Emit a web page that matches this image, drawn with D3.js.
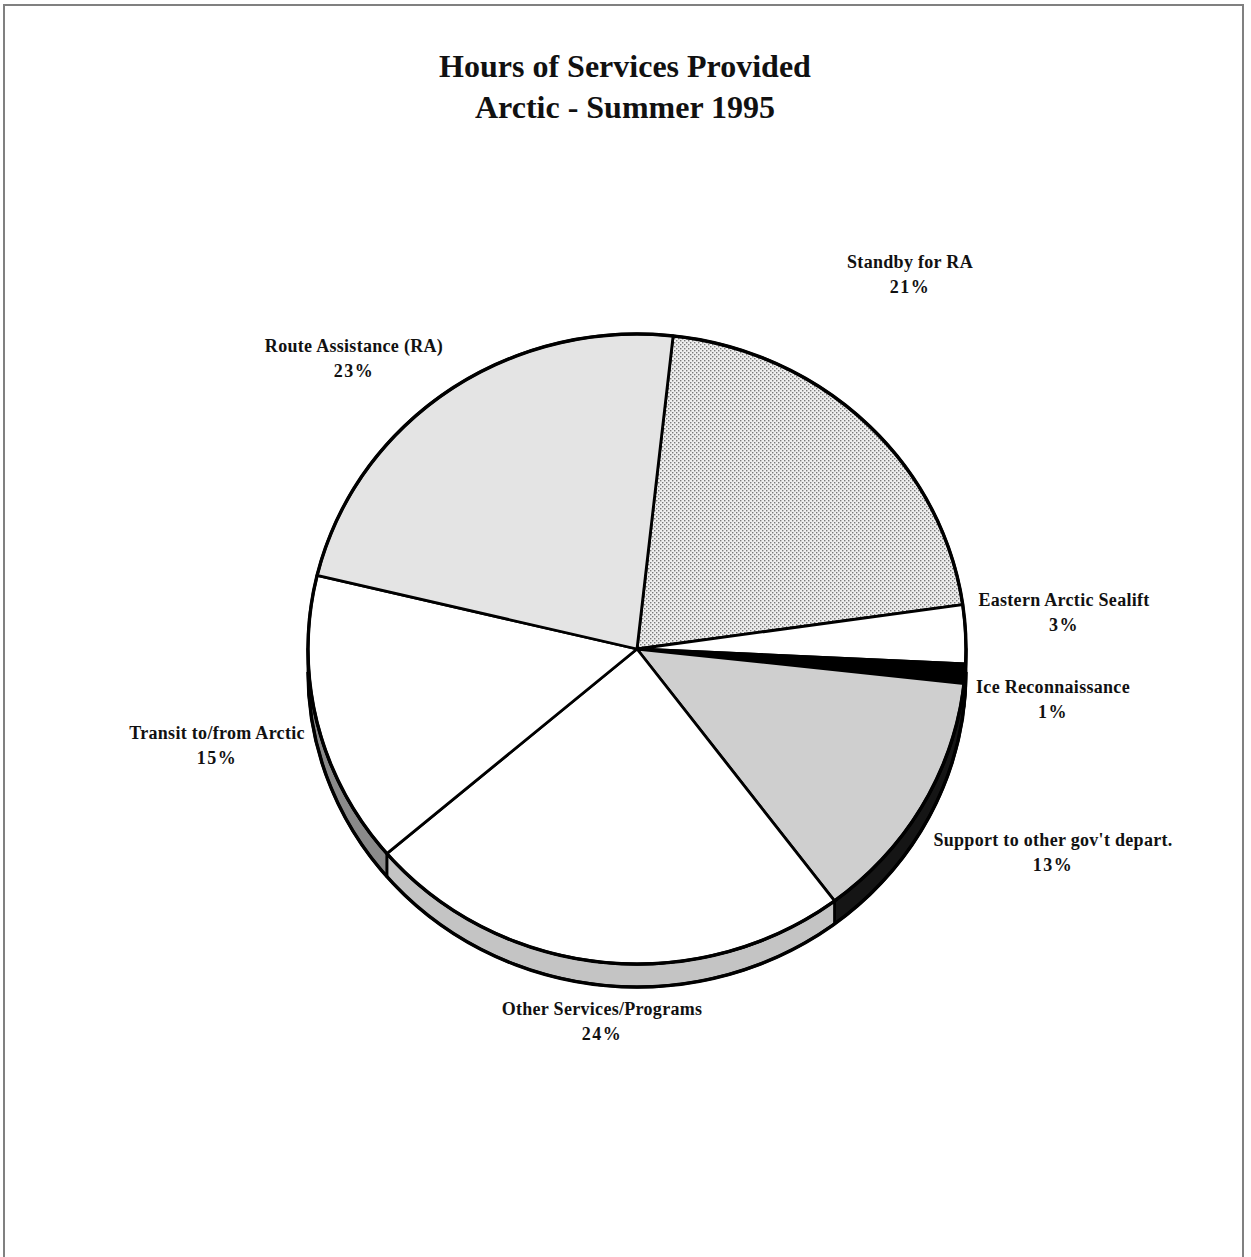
<!DOCTYPE html>
<html>
<head>
<meta charset="utf-8">
<script src="https://cdn.jsdelivr.net/npm/d3@7/dist/d3.min.js"></script>
<style>
  html, body { margin: 0; padding: 0; background: #fff; }
  svg { display: block; }
  text { font-family: "Liberation Serif", "Times New Roman", serif; font-weight: bold; fill: #111; }
</style>
</head>
<body>
<svg id="chart" width="1251" height="1257"></svg>
<script>
// Service categories, clockwise from the top of the pie
const categories = [
  "Standby for RA",
  "Eastern Arctic Sealift",
  "Ice Reconnaissance",
  "Support to other gov't depart.",
  "Other Services/Programs",
  "Transit to/from Arctic",
  "Route Assistance (RA)"
];
// Share of hours (%)
const shares = [21, 3, 1, 13, 24, 15, 23];

const titleLines = ["Hours of Services Provided", "Arctic - Summer 1995"];

// Appearance of each slice: top face and visible rim
const topFills  = ["url(#dots)", "#ffffff", "#000000", "#cfcfcf", "#ffffff", "#ffffff", "#e4e4e4"];
const sideFills = ["#ffffff", "#ffffff", "#000000", "#151515", "#c4c4c4", "#8a8a8a", "#e4e4e4"];

// Label anchor points (centre of the name line, baseline)
const labelAnchors = [[910, 268], [1064, 606], [1053, 693], [1053, 846], [602, 1015], [217, 739], [354, 352]];

const W = 1251, H = 1257;
const cx = 637, cy = 649, rx = 329, ry = 315, depth = 23;
const startDeg = 6.3;

const svg = d3.select("#chart");

// Page frame
svg.append("rect")
  .attr("x", 4).attr("y", 5).attr("width", 1239).attr("height", 1260)
  .attr("fill", "none").attr("stroke", "#808080").attr("stroke-width", 2);

// Fine dot screen used by the "Standby" slice
const defs = svg.append("defs");
const pat = defs.append("pattern").attr("id", "dots")
  .attr("width", 4).attr("height", 4).attr("patternUnits", "userSpaceOnUse");
pat.append("rect").attr("width", 4).attr("height", 4).attr("fill", "#efefef");
pat.append("rect").attr("x", 0).attr("y", 0).attr("width", 1.4).attr("height", 1.4).attr("fill", "#7a7a7a");
pat.append("rect").attr("x", 2).attr("y", 2).attr("width", 1.4).attr("height", 1.4).attr("fill", "#7a7a7a");

// Title
svg.append("g").selectAll("text").data(titleLines).join("text")
  .attr("x", 625).attr("y", (d, i) => 77 + i * 41)
  .attr("text-anchor", "middle")
  .style("font-size", "32px")
  .text(d => d);

// Pie layout
const pie = d3.pie().sort(null).value(d => d)
  .startAngle(startDeg * Math.PI / 180)
  .endAngle(startDeg * Math.PI / 180 + 2 * Math.PI);
const arcs = pie(shares).map((a, i) => ({ ...a, i }));

// Point on the tilted rim; angle measured clockwise from 12 o'clock
const pt = (t, dy = 0) => [cx + rx * Math.sin(t), cy - ry * Math.cos(t) + dy];

function topPath(a) {
  const p0 = pt(a.startAngle), p1 = pt(a.endAngle);
  const large = (a.endAngle - a.startAngle) > Math.PI ? 1 : 0;
  return `M${cx},${cy}L${p0[0]},${p0[1]}A${rx},${ry} 0 ${large} 1 ${p1[0]},${p1[1]}Z`;
}

function sidePath(a) {
  const s0 = Math.max(a.startAngle, Math.PI / 2);
  const s1 = Math.min(a.endAngle, 3 * Math.PI / 2);
  if (s1 <= s0) return null;
  const a0 = pt(s0), a1 = pt(s1), b1 = pt(s1, depth), b0 = pt(s0, depth);
  return `M${a0[0]},${a0[1]}A${rx},${ry} 0 0 1 ${a1[0]},${a1[1]}` +
         `L${b1[0]},${b1[1]}A${rx},${ry} 0 0 0 ${b0[0]},${b0[1]}Z`;
}

const pieG = svg.append("g");

// Visible rim (front half)
pieG.append("g").selectAll("path")
  .data(arcs.filter(a => sidePath(a)))
  .join("path")
  .attr("d", sidePath)
  .attr("fill", a => sideFills[a.i])
  .attr("stroke", "#000").attr("stroke-width", 2.8).attr("stroke-linejoin", "round");

// Top faces
pieG.append("g").selectAll("path")
  .data(arcs)
  .join("path")
  .attr("d", topPath)
  .attr("fill", a => topFills[a.i])
  .attr("stroke", "#000").attr("stroke-width", 2.8).attr("stroke-linejoin", "round");

// Heavier outer outline of the disc
const L = pt(3 * Math.PI / 2), R = pt(Math.PI / 2);
pieG.append("ellipse")
  .attr("cx", cx).attr("cy", cy).attr("rx", rx).attr("ry", ry)
  .attr("fill", "none").attr("stroke", "#000").attr("stroke-width", 3.4);
pieG.append("path")
  .attr("d", `M${R[0]},${R[1] + depth}A${rx},${ry} 0 0 1 ${L[0]},${L[1] + depth}`)
  .attr("fill", "none").attr("stroke", "#000").attr("stroke-width", 3.4);

// Labels: name and percentage
const lab = svg.append("g").selectAll("g").data(arcs).join("g")
  .attr("transform", a => `translate(${labelAnchors[a.i][0]},${labelAnchors[a.i][1]})`);
lab.append("text")
  .attr("text-anchor", "middle")
  .style("font-size", "18px").style("letter-spacing", "0.3px")
  .text(a => categories[a.i]);
lab.append("text")
  .attr("y", 25)
  .attr("text-anchor", "middle")
  .style("font-size", "18px").style("letter-spacing", "1.5px")
  .text(a => `${a.data}%`);
</script>
</body>
</html>
